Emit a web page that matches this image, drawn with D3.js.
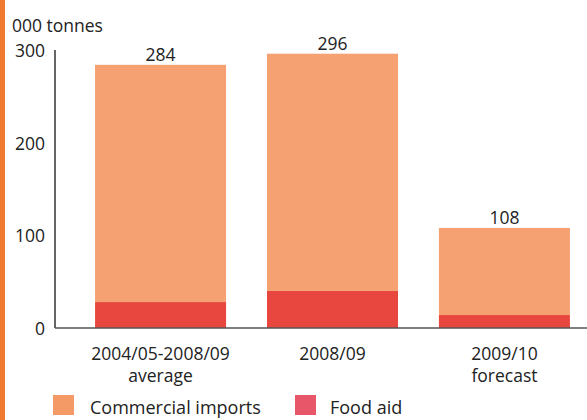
<!DOCTYPE html>
<html><head><meta charset="utf-8">
<script src="https://cdn.jsdelivr.net/npm/d3@7"></script>
<style>body{margin:0;background:#fff}svg{display:block}text{font-family:"Open Sans",sans-serif;fill:#222}</style>
</head><body><svg id="c" width="587" height="420"></svg>
<script>
const categories = [["2004/05-2008/09","average"],["2008/09"],["2009/10","forecast"]];
const totals = [284, 296, 108];
const foodAid = [28, 40, 14];
const commercial = [256, 256, 94];
const yTicks = [0, 100, 200, 300];
const seriesNames = ["Commercial imports", "Food aid"];
const colors = ["#f5a171", "#e8473f"];
const FS = 17.5;

const svg = d3.select("#c");
const y = d3.scaleLinear().domain([0, 300]).range([328, 50]);
const x = d3.scaleBand().domain(d3.range(categories.length)).range([55, 610]).paddingInner(0.238).paddingOuter(0.233);

svg.append("rect").attr("x",0).attr("y",0).attr("width",5).attr("height",420).attr("fill","#f07a2e");

const data = categories.map((c,i)=>({i, food: foodAid[i], comm: commercial[i], total: totals[i]}));
const stack = d3.stack().keys(["food","comm"])(data);
stack.forEach((layer, li) => {
  svg.append("g").selectAll("rect").data(layer).join("rect")
    .attr("x", d => x(d.data.i)).attr("width", x.bandwidth())
    .attr("y", d => y(d[1])).attr("height", d => y(d[0]) - y(d[1]))
    .attr("fill", li === 0 ? colors[1] : colors[0]);
});

svg.append("g").selectAll("text").data(data).join("text")
  .attr("x", d => x(d.i) + x.bandwidth()/2).attr("y", d => y(d.total) - 4)
  .attr("text-anchor","middle").attr("font-size",FS).text(d => d.total);

// axes
svg.append("line").attr("x1",55).attr("x2",55).attr("y1",y(300)).attr("y2",y(0)).attr("stroke","#333").attr("stroke-width",1.5);
svg.append("line").attr("x1",55).attr("x2",587).attr("y1",y(0)).attr("y2",y(0)).attr("stroke","#555").attr("stroke-width",1.5);
svg.append("g").selectAll("text").data(yTicks).join("text")
  .attr("x",45).attr("y", d => y(d) + 7).attr("text-anchor","end").attr("font-size",FS).text(d => d);
svg.append("text").attr("x",12).attr("y",32).attr("font-size",FS).text("000 tonnes");

const cat = svg.append("g").selectAll("text").data(categories).join("text")
  .attr("text-anchor","middle").attr("font-size",FS);
cat.each(function(lines, i){
  d3.select(this).selectAll("tspan").data(lines).join("tspan")
    .attr("x", x(i) + x.bandwidth()/2).attr("y",(d,j)=> 360 + j*22).text(d=>d);
});

// legend
const leg = [{n: seriesNames[0], c: "#f49a66", x: 53}, {n: seriesNames[1], c: "#e8566a", x: 295}];
const lg = svg.append("g").selectAll("g").data(leg).join("g").attr("transform", d => `translate(${d.x},395)`);
lg.append("rect").attr("width",21).attr("height",20).attr("fill", d => d.c);
lg.append("text").attr("x", d => d.x === 53 ? 37 : 35).attr("y",19).attr("font-size",18).text(d => d.n);
</script></body></html>
